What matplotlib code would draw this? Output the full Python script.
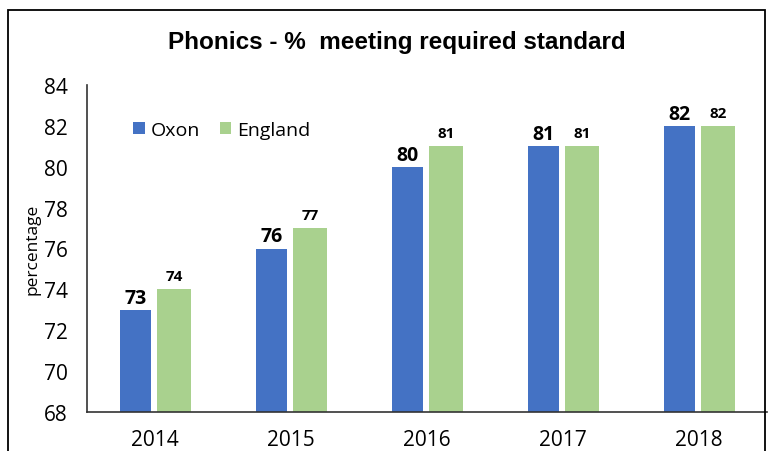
import matplotlib
matplotlib.use("Agg")
import matplotlib.pyplot as plt
import numpy as np
from matplotlib.patches import Rectangle

years = ["2014", "2015", "2016", "2017", "2018"]
oxon = [73, 76, 80, 81, 82]
england = [74, 77, 81, 81, 82]
yticks = [68, 70, 72, 74, 76, 78, 80, 82, 84]

title_font = ['Liberation Sans', 'DejaVu Sans']
body_font = ['Open Sans', 'DejaVu Sans']

fig = plt.figure(figsize=(7.71, 4.52), dpi=100)
ax = fig.add_axes([87/771, 1 - 413/452, (767-87)/771, (413-86)/452])

x = np.arange(len(years))
c_ox = "#4472C4"
c_en = "#A9D18E"
ax.bar(x - 0.145, [v - 68 for v in oxon], bottom=68, width=0.225, color=c_ox, label="Oxon", zorder=2)
ax.bar(x + 0.14, [v - 68 for v in england], bottom=68, width=0.245, color=c_en, label="England", zorder=2)

for i in range(len(years)):
    ax.text(x[i] - 0.145, oxon[i] + 0.1, str(oxon[i]), ha='center', va='bottom',
            fontsize=14, fontweight='bold', family=body_font)
    ax.text(x[i] + 0.14, england[i] + 0.3, str(england[i]), ha='center', va='bottom',
            fontsize=11, fontweight='bold', family=body_font)

ax.set_xlim(-0.5, len(years) - 0.5)
ax.set_ylim(68, 84)
ax.set_yticks(yticks)
ax.set_yticklabels([str(t) for t in yticks], family=body_font, fontsize=15)
ax.set_xticks(x)
ax.set_xticklabels(years, family=body_font, fontsize=15)
ax.tick_params(axis='x', length=0, pad=12)
ax.tick_params(axis='y', length=0, pad=14)
for s in ['top', 'right']:
    ax.spines[s].set_visible(False)
for s in ['left', 'bottom']:
    ax.spines[s].set_color('#333333')
    ax.spines[s].set_linewidth(1.2)
    ax.spines[s].set_zorder(3)

ax.set_ylabel("percentage", family=body_font, fontsize=12.5, labelpad=2)

leg = ax.legend(loc='center left', bbox_to_anchor=(0.068, 1 - (131 - 86) / (413 - 86)), ncol=2, frameon=False,
                prop={'family': body_font, 'size': 14}, handlelength=0.6, handleheight=0.6,
                columnspacing=1.0, handletextpad=0.3, borderaxespad=0, borderpad=0)

fig.text(397/771, 1 - 42/452, "Phonics - %  meeting required standard", ha='center', va='center',
         fontsize=17.5, fontweight='bold', family=title_font)

fig.patches.append(Rectangle((8/771, -0.05), (765-8)/771, 1.05 - 11/452, transform=fig.transFigure,
                             fill=False, edgecolor='black', linewidth=1.3))

fig.savefig("out.png", dpi=100)
